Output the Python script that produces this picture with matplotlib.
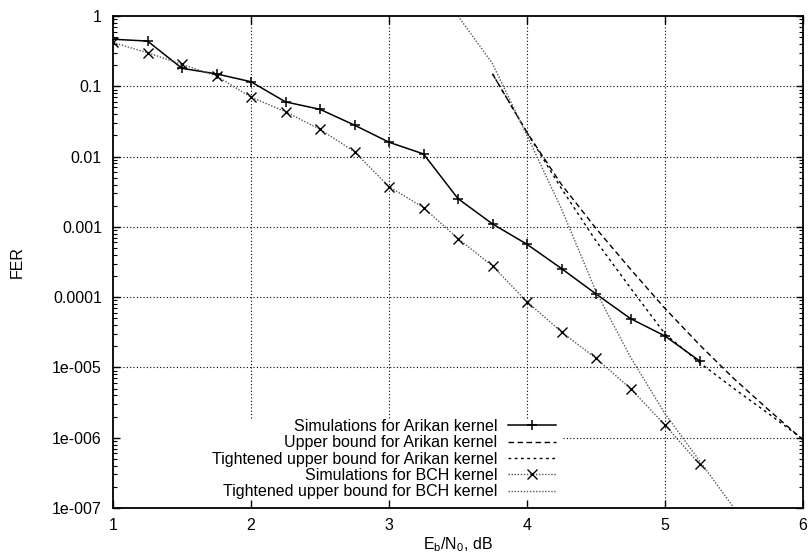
import matplotlib
matplotlib.use('Agg')
import matplotlib.pyplot as plt
from matplotlib.patches import Rectangle
from matplotlib.ticker import LogLocator, NullFormatter

plt.rcParams['font.family'] = ['Liberation Sans', 'DejaVu Sans']
plt.rcParams['mathtext.fontset'] = 'custom'
plt.rcParams['mathtext.rm'] = 'Liberation Sans'
plt.rcParams['mathtext.it'] = 'Liberation Sans'

# Simulated points (Eb/N0 in dB)
ebn0 = [1, 1.25, 1.5, 1.75, 2, 2.25, 2.5, 2.75, 3, 3.25, 3.5, 3.75, 4, 4.25, 4.5, 4.75, 5, 5.25]
arikan_sim = [0.467, 0.44, 0.18, 0.15, 0.116, 0.060, 0.047, 0.028, 0.016, 0.0109,
              0.00252, 0.0011, 0.000565, 0.000255, 0.000111, 4.95e-5, 2.8e-5, 1.24e-5]
bch_sim = [0.42, 0.30, 0.205, 0.14, 0.070, 0.0435, 0.0244, 0.0117, 0.00373, 0.00188,
           0.00068, 0.000278, 8.6e-5, 3.2e-5, 1.35e-5, 5.0e-6, 1.52e-6, 4.2e-7]

# Bounds
bound_x = [3.75, 4, 4.25, 4.5, 4.75, 5, 5.25, 5.5, 5.75, 6]
arikan_ub = [0.15, 0.022, 0.0040, 0.00095, 0.00025, 6.9e-5, 2.1e-5, 6.9e-6, 2.5e-6, 9.3e-7]
arikan_tight = [0.15, 0.022, 0.0035, 0.00063, 0.000135, 3.0e-5, 1.17e-5, 5.0e-6, 2.2e-6, 9.5e-7]
bch_bound_x = [3.5, 3.75, 4, 4.25, 4.5, 4.75, 5, 5.25, 5.5]
bch_tight = [1.0, 0.21, 0.020, 0.0018, 0.00012, 1.4e-5, 2.2e-6, 4.7e-7, 1.0e-7]

y_ticks = [1, 0.1, 0.01, 0.001, 0.0001, 1e-5, 1e-6, 1e-7]
y_labels = ['1', '0.1', '0.01', '0.001', '0.0001', '1e-005', '1e-006', '1e-007']
x_ticks = [1, 2, 3, 4, 5, 6]

fig = plt.figure(figsize=(8.08, 5.54), dpi=100)
ax = fig.add_axes([113 / 808, 46 / 554, 690 / 808, 492 / 554])

ax.plot(ebn0, arikan_sim, color='black', lw=1.1, marker='+', ms=7, mew=1.1,
        label='Simulations for Arikan kernel')
ax.plot(bound_x, arikan_ub, color='black', lw=1.0, dashes=(4, 2.5),
        label='Upper bound for Arikan kernel')
ax.plot(bound_x, arikan_tight, color='black', lw=1.0, dashes=(2, 2.5),
        label='Tightened upper bound for Arikan kernel')
ax.plot(ebn0, bch_sim, color='#555555', lw=1.0, dashes=(1, 1.2), marker='x', ms=6.5,
        mec='black', mew=1.0, label='Simulations for BCH kernel')
ax.plot(bch_bound_x, bch_tight, color='#555555', lw=1.0, dashes=(1, 1.2),
        label='Tightened upper bound for BCH kernel')

ax.set_yscale('log')
ax.set_xlim(1, 6)
ax.set_ylim(1e-7, 1)
ax.set_xticks(x_ticks)
ax.set_yticks(y_ticks)
ax.set_yticklabels(y_labels)
ax.yaxis.set_minor_locator(LogLocator(base=10, subs=range(2, 10), numticks=20))
ax.yaxis.set_minor_formatter(NullFormatter())

ax.tick_params(which='both', direction='in', top=True, right=True, labelsize=11.5)
ax.tick_params(axis='x', which='major', length=6, width=1.0, pad=7)
ax.tick_params(axis='y', which='major', length=5, width=1.0, pad=8)
ax.tick_params(axis='y', which='minor', length=3, width=0.8)
for s in ax.spines.values():
    s.set_linewidth(1.3)

# dotted grid drawn under an opaque key area (gnuplot style)
for xv in x_ticks[1:-1]:
    ax.axvline(xv, color='black', linestyle=(0, (1, 2)), linewidth=0.8, zorder=0.8)
for yv in y_ticks[1:-1]:
    ax.axhline(yv, color='black', linestyle=(0, (1, 2)), linewidth=0.8, zorder=0.8)
ax.add_patch(Rectangle((0, 0), 0.652, 0.179, transform=ax.transAxes,
                       facecolor='white', edgecolor='none', zorder=1.0))

ax.set_xlabel(r'E$_\mathrm{b}$/N$_\mathrm{0}$, dB', fontsize=11.5, labelpad=2)
ax.set_ylabel('FER', fontsize=11.5, labelpad=20)

leg = ax.legend(loc='lower right', bbox_to_anchor=(0.661, -0.008), markerfirst=False,
                fontsize=11.5, handlelength=3.0, handletextpad=0.7, labelspacing=0.08,
                borderpad=0.3, frameon=False)

plt.savefig('out.png', dpi=100)
